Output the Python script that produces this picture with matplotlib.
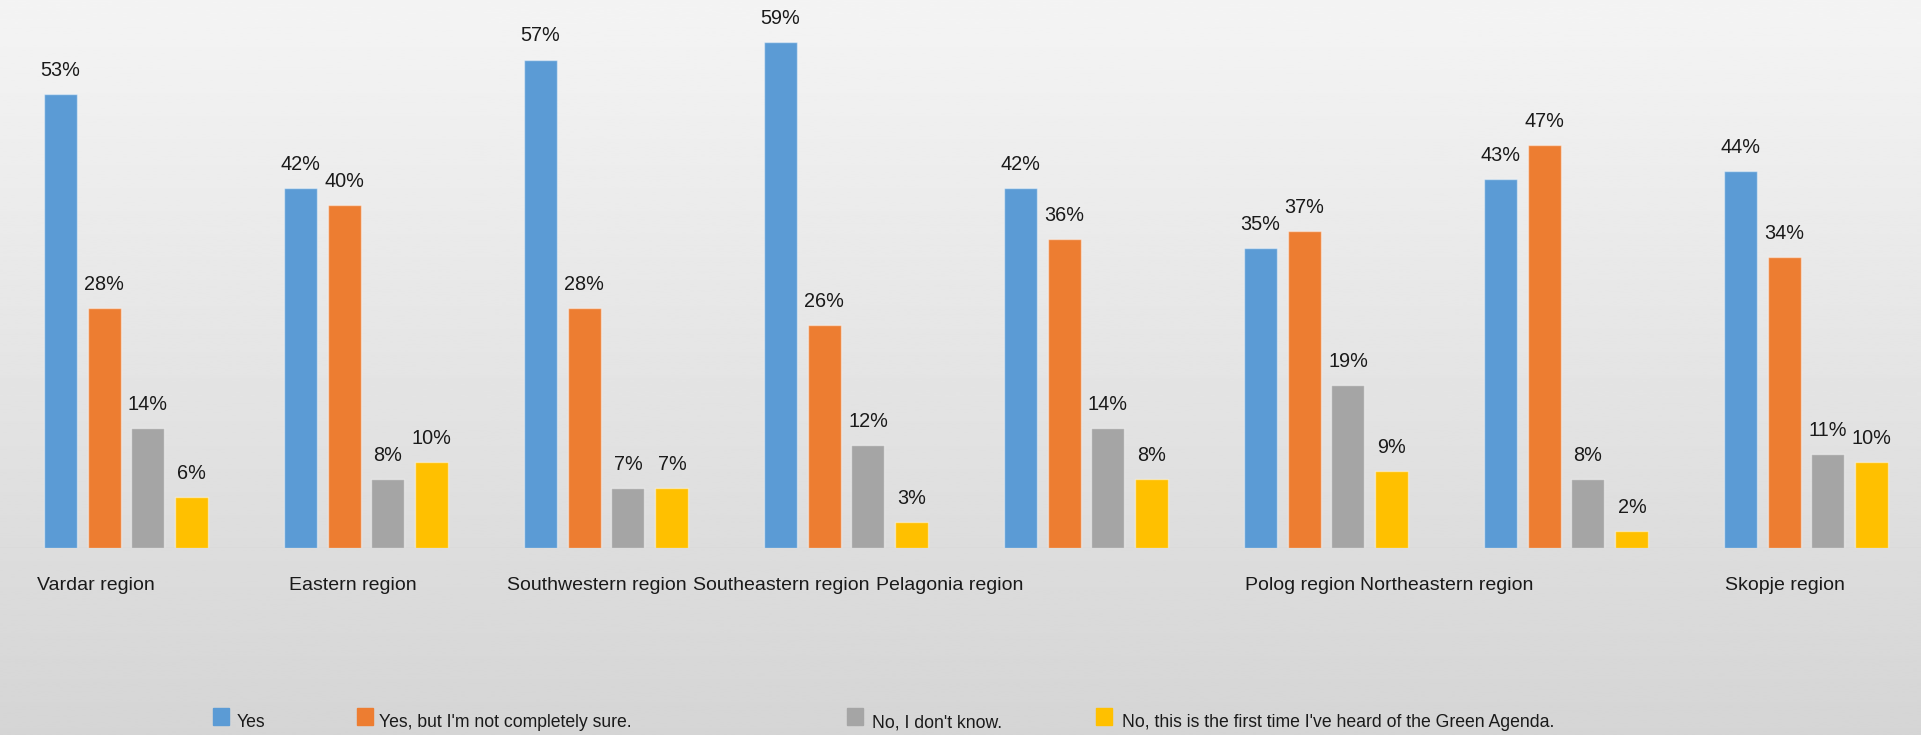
import numpy as np
import matplotlib
matplotlib.use("Agg")
import matplotlib.pyplot as plt
from matplotlib.patches import Rectangle

plt.rcParams['font.family'] = ['Liberation Sans', 'DejaVu Sans']

regions = ['Vardar region', 'Eastern region', 'Southwestern region', 'Southeastern region',
           'Pelagonia region', 'Polog region', 'Northeastern region', 'Skopje region']
series = ['Yes', "Yes, but I'm not completely sure.", "No, I don't know.",
          "No, this is the first time I've heard of the Green Agenda."]
yes = [53, 42, 57, 59, 42, 35, 43, 44]
yes_unsure = [28, 40, 28, 26, 36, 37, 47, 34]
dont_know = [14, 8, 7, 12, 14, 19, 8, 11]
first_time = [6, 10, 7, 3, 8, 9, 2, 10]
colors = ['#5B9BD5', '#ED7D31', '#A5A5A5', '#FFC000']

# where each category label starts (data units)
label_x = [-0.372, 0.679, 1.589, 2.364, 3.125, 4.661, 5.142, 6.662]

W, H = 1921, 735
fig = plt.figure(figsize=(W / 100, H / 100), dpi=100)

# background gradient
bg = fig.add_axes([0, 0, 1, 1], zorder=0)
grad = np.linspace(0.957, 0.835, 256).reshape(-1, 1)
bg.imshow(np.repeat(grad, 2, axis=1), cmap='gray', vmin=0, vmax=1,
          aspect='auto', extent=[0, 1, 0, 1])
bg.axis('off')

base_px = 548
ax = fig.add_axes([0, (H - base_px) / H, 1, base_px / H], zorder=1)
ax.patch.set_alpha(0)
px_per_pct = 8.57
ax.set_ylim(0, base_px / px_per_pct)
xmin = -126 / 240
ax.set_xlim(xmin, xmin + W / 240)

x = np.arange(len(regions))
bw = 0.1375
pitch = 0.183
data = [yes, yes_unsure, dont_know, first_time]
for k, (vals, c) in enumerate(zip(data, colors)):
    xs = x + (k - 1.5) * pitch
    ax.bar(xs, vals, width=bw, color=c, edgecolor=(1, 1, 1, 0.45), linewidth=1.0, zorder=2)
    for xi, v in zip(xs, vals):
        ax.annotate(f'{v}%', (xi, v), xytext=(0, 13), textcoords='offset points',
                    ha='center', va='baseline', fontsize=14.3, color='#1a1a1a')

ax.axhline(0, color='#dadada', lw=1.2, zorder=1)
ax.axis('off')

for lx, name in zip(label_x, regions):
    ax.text(lx, -37 / px_per_pct, name, ha='left', va='center', fontsize=14,
            color='#1a1a1a', clip_on=False)

# legend drawn by hand
sq_x = [213, 357, 847, 1096]
txt_x = [237, 379, 872, 1122]
for sx, tx, c, name in zip(sq_x, txt_x, colors, series):
    fig.patches.append(Rectangle((sx / W, (H - 725) / H), 16 / W, 17 / H,
                                 transform=fig.transFigure, color=c, zorder=3))
    fig.text(tx / W, (H - 727) / H, name, ha='left', va='baseline',
             fontsize=12.7, color='#1a1a1a', zorder=3)

fig.savefig('out.png', dpi=100)
